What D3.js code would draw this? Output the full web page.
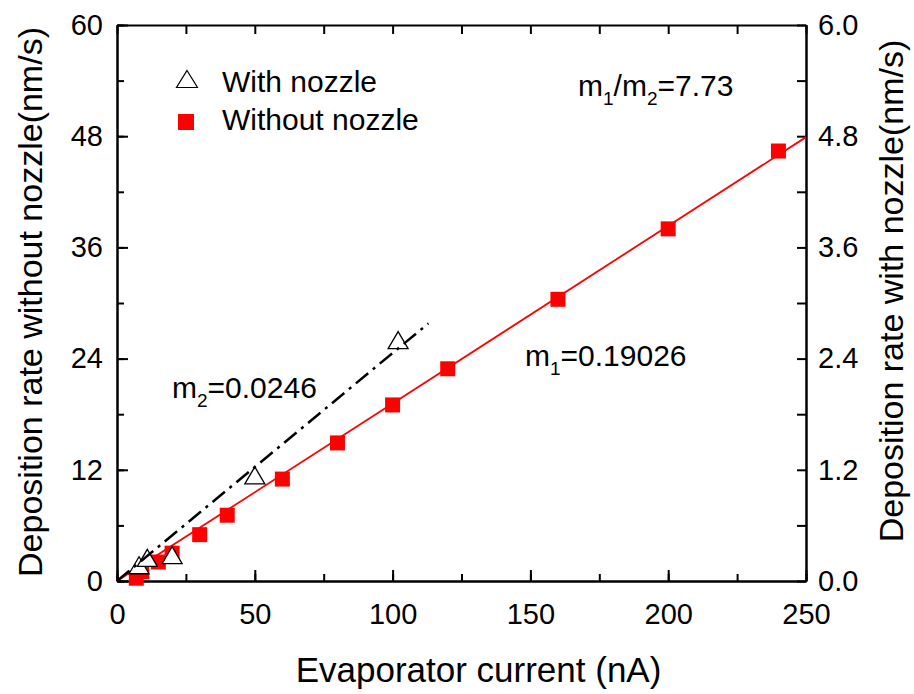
<!DOCTYPE html>
<html>
<head>
<meta charset="utf-8">
<script src="https://cdn.jsdelivr.net/npm/d3@7"></script>
<style>
  body { margin: 0; background: #fff; }
  text { font-family: "Liberation Sans", Arial, sans-serif; fill: #000; }
</style>
</head>
<body>
<div id="chart"></div>
<script>
// data
var withoutX = [7, 9, 15, 20, 30, 40, 60, 80, 100, 120, 160, 200, 240];
var withoutY = [0.3, 1.0, 2.05, 3.0, 5.0, 7.1, 11.0, 14.9, 19.0, 22.9, 30.4, 38.0, 46.4];
var withX = [8, 11, 20, 50, 102];
var withY = [0.17, 0.25, 0.28, 1.14, 2.6];
var fit1X = [0, 250];
var fit1Y = [0, 47.9];
var fit2X = [0, 113];
var fit2Y = [0, 2.78];
var xTicks = [0, 50, 100, 150, 200, 250];
var yLeftTicks = [0, 12, 24, 36, 48, 60];
var yRightTicks = [0, 1.2, 2.4, 3.6, 4.8, 6.0];

var width = 914, height = 694;
var mLeft = 117, mRight = 806, mTop = 25, mBottom = 581;

var svg = d3.select("#chart").append("svg")
    .attr("width", width)
    .attr("height", height);

// scales
var x = d3.scaleLinear().domain([0, 250]).range([mLeft, mRight]);
var yL = d3.scaleLinear().domain([0, 60]).range([mBottom, mTop]);
var yR = d3.scaleLinear().domain([0, 6]).range([mBottom, mTop]);

var minorX = d3.range(0, 251, 25);
var minorYL = d3.range(0, 61, 6);
var minorYR = d3.range(0, 6.01, 0.6);

function styleAxis(g) {
    g.select(".domain").attr("stroke", "#000").attr("stroke-width", 2);
    g.selectAll(".tick line").attr("stroke", "#000").attr("stroke-width", 2);
    g.selectAll("text").style("font-size", "29px")
        .style("font-family", "'Liberation Sans', Arial, sans-serif");
}

// minor ticks (no labels)
svg.append("g").attr("transform", "translate(0," + mBottom + ")")
    .call(d3.axisBottom(x).tickValues(minorX).tickSize(-7).tickFormat("").tickSizeOuter(0))
    .call(styleAxis);
svg.append("g").attr("transform", "translate(" + mLeft + ",0)")
    .call(d3.axisLeft(yL).tickValues(minorYL).tickSize(-7).tickFormat("").tickSizeOuter(0))
    .call(styleAxis);
svg.append("g").attr("transform", "translate(0," + mTop + ")")
    .call(d3.axisTop(x).tickValues(minorX).tickSize(-9).tickFormat("").tickSizeOuter(0))
    .call(styleAxis);
svg.append("g").attr("transform", "translate(" + mRight + ",0)")
    .call(d3.axisRight(yR).tickValues(minorYR).tickSize(-9).tickFormat("").tickSizeOuter(0))
    .call(styleAxis);

// major ticks with labels
var xAxis = svg.append("g").attr("transform", "translate(0," + mBottom + ")")
    .call(d3.axisBottom(x).tickValues(xTicks).tickSize(-11).tickPadding(16).tickSizeOuter(0))
    .call(styleAxis);
xAxis.selectAll("text").attr("dy", "0.93em");

var yAxisL = svg.append("g").attr("transform", "translate(" + mLeft + ",0)")
    .call(d3.axisLeft(yL).tickValues(yLeftTicks).tickSize(-11).tickPadding(14).tickSizeOuter(0))
    .call(styleAxis);

var yAxisR = svg.append("g").attr("transform", "translate(" + mRight + ",0)")
    .call(d3.axisRight(yR).tickValues(yRightTicks).tickSize(0).tickPadding(12)
        .tickFormat(d3.format(".1f")).tickSizeOuter(0))
    .call(styleAxis);

// axis titles
svg.append("text")
    .attr("x", (mLeft + mRight) / 2 + 17)
    .attr("y", 682)
    .attr("text-anchor", "middle")
    .style("font-size", "35px")
    .text("Evaporator current (nA)");
svg.append("text")
    .attr("transform", "translate(42,302) rotate(-90)")
    .attr("text-anchor", "middle")
    .style("font-size", "34px")
    .text("Deposition rate without nozzle(nm/s)");
svg.append("text")
    .attr("transform", "translate(903,291) rotate(-90)")
    .attr("text-anchor", "middle")
    .style("font-size", "34px")
    .text("Deposition rate with nozzle(nm/s)");

// fit line without nozzle
var line1 = d3.line().x(d => x(d[0])).y(d => yL(d[1]));
svg.append("path")
    .datum(d3.zip(fit1X, fit1Y))
    .attr("d", line1)
    .attr("fill", "none")
    .attr("stroke", "#ff0000")
    .attr("stroke-width", 1.8);

// squares
var sq = 15;
svg.selectAll("rect.without")
    .data(d3.zip(withoutX, withoutY)).enter()
    .append("rect")
    .attr("class", "without")
    .attr("x", d => x(d[0]) - sq / 2)
    .attr("y", d => yL(d[1]) - sq / 2)
    .attr("width", sq)
    .attr("height", sq)
    .attr("fill", "#ff0000");

// triangles
function tri(w, h) {
    return "M0," + (-h / 2) + "L" + (w / 2) + "," + (h / 2) + "L" + (-w / 2) + "," + (h / 2) + "Z";
}
svg.selectAll("path.with")
    .data(d3.zip(withX, withY)).enter()
    .append("path")
    .attr("class", "with")
    .attr("d", tri(20, 17))
    .attr("transform", d => "translate(" + x(d[0]) + "," + yR(d[1]) + ")")
    .attr("fill", "#fff")
    .attr("stroke", "#000")
    .attr("stroke-width", 1.3);

// fit line with nozzle (dash-dot)
var line2 = d3.line().x(d => x(d[0])).y(d => yR(d[1]));
svg.append("path")
    .datum(d3.zip(fit2X, fit2Y))
    .attr("d", line2)
    .attr("fill", "none")
    .attr("stroke", "#000")
    .attr("stroke-width", 2.5)
    .attr("stroke-dasharray", "16,6,3,6");

// legend
svg.append("path")
    .attr("d", tri(21, 17))
    .attr("transform", "translate(187,79)")
    .attr("fill", "#fff")
    .attr("stroke", "#000")
    .attr("stroke-width", 1.2);
svg.append("text").attr("x", 222).attr("y", 92)
    .style("font-size", "30px").text("With nozzle");
svg.append("rect")
    .attr("x", 178).attr("y", 114).attr("width", 16).attr("height", 16)
    .attr("fill", "#ff0000");
svg.append("text").attr("x", 222).attr("y", 130)
    .style("font-size", "30px").text("Without nozzle");

// annotations
function annot(xp, yp, parts) {
    var t = svg.append("text").attr("x", xp).attr("y", yp).style("font-size", "30px");
    parts.forEach(p => {
        if (p[1]) {
            t.append("tspan").attr("dy", 9).style("font-size", "19px").text(p[0]);
        } else {
            t.append("tspan").attr("dy", p[2] || 0).text(p[0]);
        }
    });
}
annot(578, 96, [["m", false], ["1", true], ["/m", false, -9], ["2", true], ["=7.73", false, -9]]);
annot(525, 366, [["m", false], ["1", true], ["=0.19026", false, -9]]);
annot(172, 398, [["m", false], ["2", true], ["=0.0246", false, -9]]);
</script>
</body>
</html>
